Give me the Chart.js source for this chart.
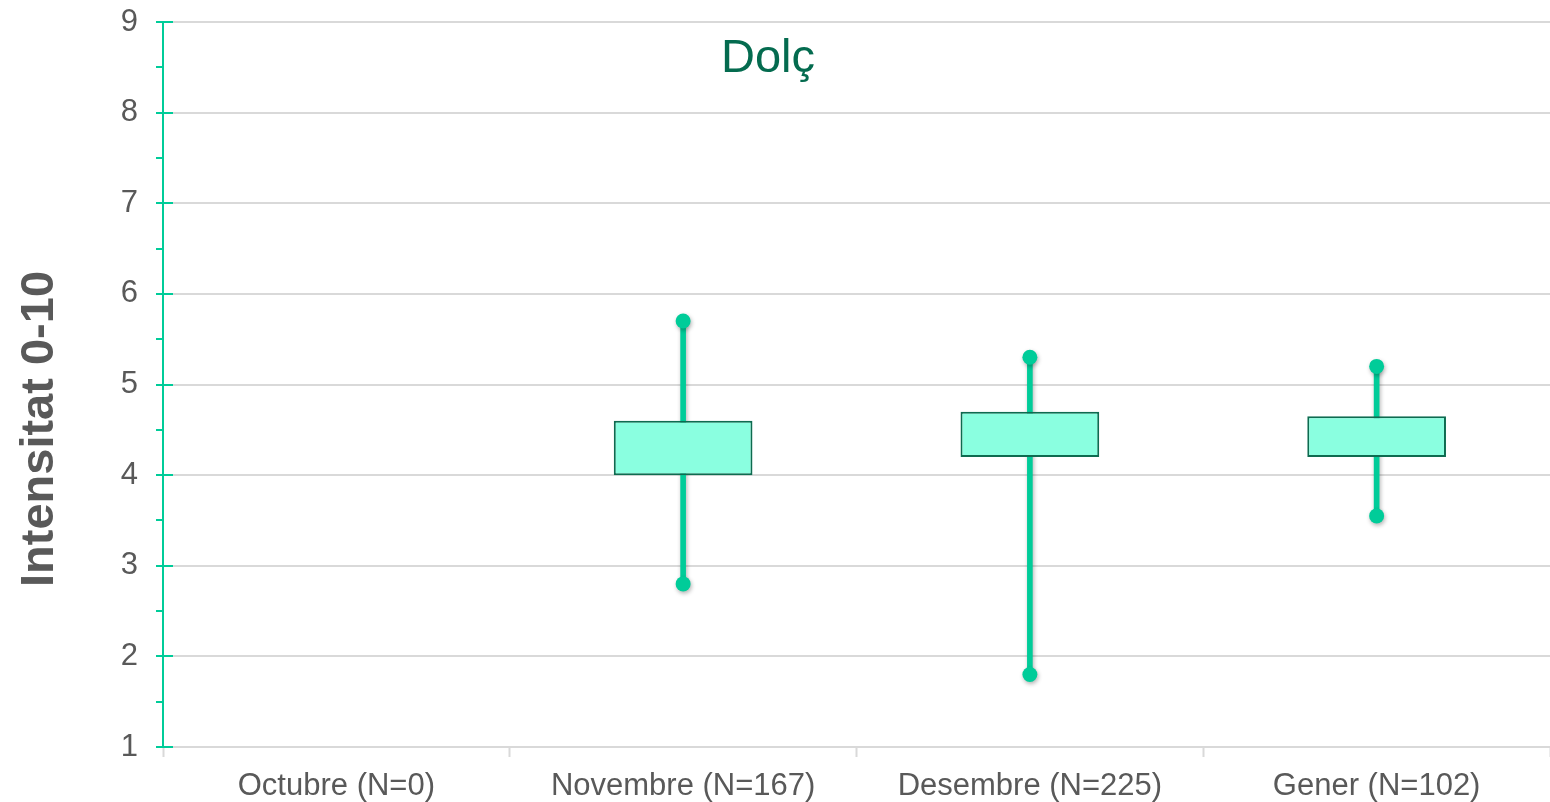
<!DOCTYPE html>
<html>
<head>
<meta charset="utf-8">
<script src="https://cdn.jsdelivr.net/npm/chart.js@4.4.0/dist/chart.umd.min.js"></script>
<style>
  body { margin: 0; background: #fff; }
  #wrap { width: 1550px; height: 802px; position: relative; }
</style>
</head>
<body>
<div id="wrap"><canvas id="myChart"></canvas></div>
<script>
const categories = ['Octubre (N=0)', 'Novembre (N=167)', 'Desembre (N=225)', 'Gener (N=102)'];
const minValues = [null, 2.8, 1.8, 3.55];
const q1Values = [null, 4.0, 4.2, 4.2];
const q3Values = [null, 4.6, 4.7, 4.65];
const maxValues = [null, 5.7, 5.3, 5.2];
const yTicks = [1, 2, 3, 4, 5, 6, 7, 8, 9];
const chartTitle = 'Dolç';
const yTitle = 'Intensitat 0-10';

const GREEN = '#00CC99';
const TEXT = '#595959';
const GRID = '#D9D9D9';

const boxData = categories.map((c, i) => q1Values[i] == null ? null : [q1Values[i], q3Values[i]]);
const whiskerData = categories.map((c, i) => minValues[i] == null ? null : [minValues[i], maxValues[i]]);

// soft shadow under whiskers and end dots
const shadowPlugin = {
  id: 'shadow',
  beforeDatasetDraw(chart, args) {
    const ds = chart.data.datasets[args.index];
    if (!ds.shadow) return;
    const ctx = chart.ctx;
    ctx.save();
    ctx.shadowColor = 'rgba(0,0,0,0.3)';
    ctx.shadowBlur = 4;
    ctx.shadowOffsetX = 1;
    ctx.shadowOffsetY = 2;
  },
  afterDatasetDraw(chart, args) {
    const ds = chart.data.datasets[args.index];
    if (!ds.shadow) return;
    chart.ctx.restore();
  }
};

// title, rotated y title and the green y ticks that cross the axis
const decorPlugin = {
  id: 'decor',
  afterDraw(chart) {
    const ctx = chart.ctx;
    const y = chart.scales.y;
    const left = chart.chartArea.left;
    ctx.save();
    ctx.strokeStyle = GREEN;
    ctx.lineWidth = 2;
    yTicks.forEach(v => {
      const py = Math.round(y.getPixelForValue(v));
      ctx.beginPath();
      ctx.moveTo(left, py);
      ctx.lineTo(left + 10, py);
      ctx.stroke();
    });

    ctx.fillStyle = '#046B4F';
    ctx.font = '47px "Liberation Sans", Arial, sans-serif';
    ctx.textAlign = 'center';
    ctx.textBaseline = 'alphabetic';
    ctx.fillText(chartTitle, 768, 72);

    ctx.translate(40, 429);
    ctx.rotate(-Math.PI / 2);
    ctx.fillStyle = TEXT;
    ctx.font = 'bold 47px "Liberation Sans", Arial, sans-serif';
    ctx.textBaseline = 'middle';
    ctx.fillText(yTitle, 0, 0);
    ctx.restore();
  }
};

new Chart(document.getElementById('myChart'), {
  type: 'bar',
  data: {
    labels: categories,
    datasets: [
      {
        label: 'Box',
        data: boxData,
        backgroundColor: '#8AFFE0',
        borderColor: '#0E6B50',
        borderWidth: 2,
        borderSkipped: false,
        grouped: false,
        barPercentage: 0.4,
        categoryPercentage: 1,
        order: 1
      },
      {
        label: 'Whisker',
        data: whiskerData,
        backgroundColor: GREEN,
        borderWidth: 0,
        grouped: false,
        barThickness: 5,
        shadow: true,
        order: 3
      },
      {
        type: 'line',
        label: 'Max',
        data: maxValues,
        showLine: false,
        pointRadius: 7.5,
        pointBackgroundColor: GREEN,
        pointBorderWidth: 0,
        shadow: true,
        order: 2
      },
      {
        type: 'line',
        label: 'Min',
        data: minValues,
        showLine: false,
        pointRadius: 7.5,
        pointBackgroundColor: GREEN,
        pointBorderWidth: 0,
        shadow: true,
        order: 2
      }
    ]
  },
  options: {
    responsive: true,
    maintainAspectRatio: false,
    animation: false,
    layout: { autoPadding: false, padding: { top: 22, right: 0, bottom: 0, left: 0 } },
    plugins: {
      legend: { display: false },
      tooltip: { enabled: false },
      title: { display: false }
    },
    scales: {
      x: {
        offset: true,
        grid: {
          offset: true,
          drawOnChartArea: false,
          drawTicks: true,
          tickLength: 10,
          tickColor: GRID,
          tickWidth: 2
        },
        border: { color: GRID, width: 2 },
        ticks: {
          color: TEXT,
          font: { family: '"Liberation Sans", Arial, sans-serif', size: 31 },
          padding: 11,
          maxRotation: 0
        },
        afterFit(scale) {
          scale.height = 55;
          scale.paddingLeft = 0;
          scale.paddingRight = 0;
        }
      },
      y: {
        min: 1,
        max: 9,
        grid: {
          color: ctx => Number.isInteger(ctx.tick.value) ? GRID : 'rgba(0,0,0,0)',
          lineWidth: 2,
          drawTicks: true,
          tickLength: 7,
          tickColor: GREEN,
          tickWidth: 2
        },
        border: { color: GREEN, width: 2 },
        ticks: {
          stepSize: 0.5,
          color: TEXT,
          font: { family: '"Liberation Sans", Arial, sans-serif', size: 31 },
          padding: 18,
          callback: v => yTicks.includes(v) ? String(v) : ''
        },
        afterFit(scale) {
          scale.width = 163;
          scale.paddingTop = 0;
          scale.paddingBottom = 0;
        }
      }
    }
  },
  plugins: [shadowPlugin, decorPlugin]
});
</script>
</body>
</html>
